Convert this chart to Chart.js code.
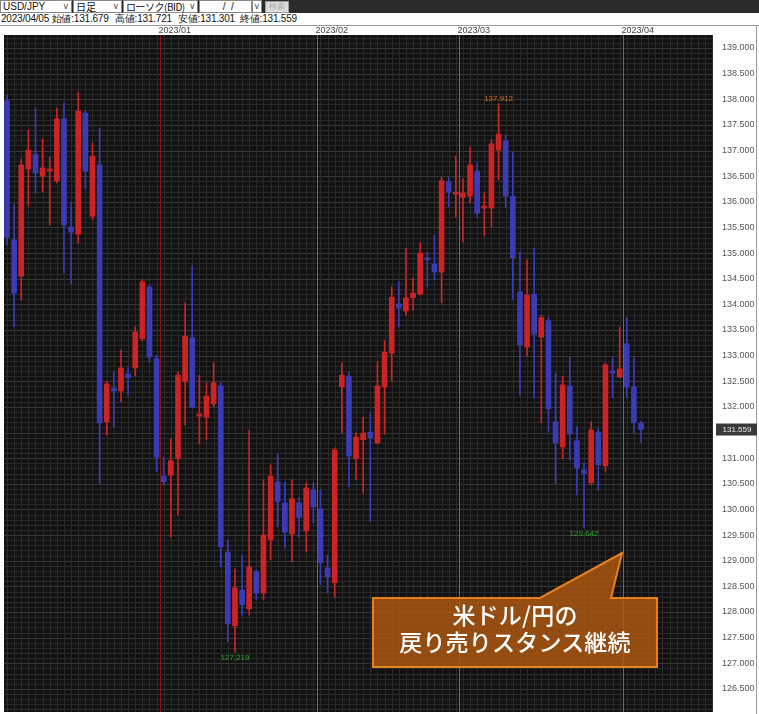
<!DOCTYPE html>
<html>
<head>
<meta charset="utf-8">
<script src="https://cdn.jsdelivr.net/npm/chart.js@4.4.0/dist/chart.umd.min.js"></script>
<style>
  body { margin: 0; width: 759px; height: 714px; overflow: hidden; position: relative; background: #fff; font-family: "Liberation Sans", Arial, sans-serif; }
  #toolbar { position: absolute; left: 0; top: 0; width: 759px; height: 13px; background: #2b2b2b; }
  .sel { position: absolute; top: 0; height: 13px; background: #fff; border: 1px solid #8a8a8a; box-sizing: border-box; font-size: 10px; line-height: 11px; color: #111; padding-left: 2px; white-space: nowrap; }
  .sel .arr { position: absolute; right: 2px; top: 0; font-size: 9px; color: #555; font-family: "DejaVu Sans", sans-serif; }
  #searchBtn { position: absolute; left: 265px; top: 1px; width: 22px; height: 10px; background: #ddd; border: 1px solid #999; font-size: 8px; line-height: 10px; text-align: center; color: #aaa; }
  .info { position: absolute; top: 13px; font-size: 10px; line-height: 12px; color: #111; white-space: nowrap; letter-spacing: -0.2px; }
  #hline { position: absolute; left: 0; top: 25px; width: 759px; height: 1px; background: #999; }
  #rline { position: absolute; left: 756px; top: 25px; width: 1px; height: 689px; background: #999; }
  #chartBox { position: absolute; left: 0; top: 26px; width: 759px; height: 688px; }
  #callout { position: absolute; left: 373px; top: 601px; width: 284px; text-align: center; color: #fff; font-family: "Noto Sans CJK JP", sans-serif; font-size: 23px; line-height: 27px; font-weight: 500; letter-spacing: 0.2px; }
</style>
</head>
<body>
<div id="toolbar"></div>
<div class="sel" style="left:0;width:72px">USD/JPY<span class="arr">∨</span></div>
<div class="sel" style="left:73px;width:49px;font-family:'Noto Sans CJK JP',sans-serif">日足<span class="arr">∨</span></div>
<div class="sel" style="left:123px;width:75px;font-family:'Noto Sans CJK JP',sans-serif;letter-spacing:-0.5px">ローソク(BID)<span class="arr">∨</span></div>
<div class="sel" style="left:199px;width:53px;text-align:center;padding-left:0">&nbsp;&nbsp;/&nbsp;&nbsp;/</div>
<div class="sel" style="left:252px;width:10px;padding-left:0"><span class="arr" style="right:1px">∨</span></div>
<div id="searchBtn">検索</div>
<div class="info" style="left:1px">2023/04/05 始値:131.679</div>
<div class="info" style="left:115px">高値:131.721</div>
<div class="info" style="left:178px">安値:131.301</div>
<div class="info" style="left:240px">終値:131.559</div>
<div id="hline"></div>
<div id="rline"></div>
<div id="chartBox"><canvas id="chart" width="759" height="688"></canvas></div>
<div id="callout">米ドル/円の<br>戻り売りスタンス継続</div>
<script>
// Daily USD/JPY (BID), 2022/12/01 - 2023/04/05
const dates = [
  '2022/12/01','2022/12/02','2022/12/05','2022/12/06','2022/12/07','2022/12/08','2022/12/09',
  '2022/12/12','2022/12/13','2022/12/14','2022/12/15','2022/12/16','2022/12/19','2022/12/20',
  '2022/12/21','2022/12/22','2022/12/23','2022/12/26','2022/12/27','2022/12/28','2022/12/29','2022/12/30',
  '2023/01/02','2023/01/03','2023/01/04','2023/01/05','2023/01/06','2023/01/09','2023/01/10',
  '2023/01/11','2023/01/12','2023/01/13','2023/01/16','2023/01/17','2023/01/18','2023/01/19',
  '2023/01/20','2023/01/23','2023/01/24','2023/01/25','2023/01/26','2023/01/27','2023/01/30','2023/01/31',
  '2023/02/01','2023/02/02','2023/02/03','2023/02/06','2023/02/07','2023/02/08','2023/02/09',
  '2023/02/10','2023/02/13','2023/02/14','2023/02/15','2023/02/16','2023/02/17','2023/02/20',
  '2023/02/21','2023/02/22','2023/02/23','2023/02/24','2023/02/27','2023/02/28',
  '2023/03/01','2023/03/02','2023/03/03','2023/03/06','2023/03/07','2023/03/08','2023/03/09',
  '2023/03/10','2023/03/13','2023/03/14','2023/03/15','2023/03/16','2023/03/17','2023/03/20',
  '2023/03/21','2023/03/22','2023/03/23','2023/03/24','2023/03/27','2023/03/28','2023/03/29',
  '2023/03/30','2023/03/31',
  '2023/04/03','2023/04/04','2023/04/05'
];
const opens = [
  137.97,135.26,134.55,136.64,136.93,136.50,136.60,136.41,137.62,135.51,135.37,137.73,135.72,136.72,
  131.71,132.37,132.31,132.64,132.76,133.33,134.34,132.94,
  130.65,130.67,130.99,132.49,133.35,131.82,131.80,132.06,132.41,129.17,127.73,128.43,128.06,128.78,
  128.37,129.41,130.54,130.13,129.52,130.13,129.58,130.38,
  130.01,128.86,128.57,132.39,132.60,130.99,131.36,131.51,131.30,132.39,133.05,134.01,133.87,134.13,
  134.20,134.89,134.79,134.63,136.39,136.15,
  136.09,136.11,136.60,135.88,135.88,137.01,137.19,136.11,134.24,133.17,134.20,133.36,133.68,131.71,
  131.22,132.41,131.34,130.77,130.52,131.51,130.85,132.68,132.58,
  133.23,132.39,131.679
];
const highs = [
  138.08,135.96,136.84,137.40,137.83,137.23,136.87,137.83,137.93,135.98,138.14,137.77,137.15,137.44,
  132.49,132.68,133.11,132.78,133.56,134.48,134.38,133.01,
  131.02,131.38,132.68,134.03,134.75,132.62,132.47,132.86,132.47,129.41,128.84,129.11,131.55,128.82,
  130.58,130.87,131.08,130.54,130.58,130.24,130.52,130.52,
  130.38,129.11,131.20,132.86,132.68,131.49,131.80,131.88,132.88,133.29,134.34,134.44,135.10,134.52,
  135.20,135.02,135.35,136.48,136.48,136.89,
  136.45,137.07,136.76,136.17,137.21,137.912,137.30,136.97,135.02,134.87,135.10,133.79,133.75,132.66,
  132.60,132.97,131.61,130.91,131.71,131.59,132.86,132.96,133.56,
  133.74,132.96,131.721
];
const lows = [
  135.16,133.56,134.09,135.92,136.17,136.19,135.55,136.37,134.61,134.40,135.20,136.25,135.65,130.52,
  131.45,131.61,132.10,132.23,132.60,133.29,132.88,130.73,
  130.48,129.46,129.89,131.65,131.98,131.28,131.36,132.00,128.88,127.42,127.219,127.94,127.94,128.24,
  128.24,129.02,129.66,129.25,128.98,129.46,129.17,129.74,
  128.53,128.37,128.29,131.49,130.44,130.58,130.32,129.76,131.28,131.47,132.51,133.56,133.79,133.89,
  134.18,134.34,134.48,134.03,135.90,135.70,
  135.22,135.98,135.70,135.33,135.51,136.43,135.90,134.09,132.23,132.99,132.18,131.69,131.51,130.50,
  130.99,130.97,130.28,129.642,130.48,130.38,130.73,132.18,132.57,
  132.18,131.49,131.301
];
const closes = [
  135.31,134.22,136.72,137.01,136.56,136.66,136.64,137.62,135.55,135.41,137.77,136.60,136.89,131.69,
  132.45,132.31,132.76,132.57,133.46,134.44,132.97,131.02,
  130.54,130.95,132.62,133.38,132.00,131.86,132.21,132.47,129.27,127.77,128.47,128.14,128.88,128.37,
  129.50,130.65,130.15,129.56,130.21,129.84,130.42,130.05,
  128.96,128.68,131.16,132.62,131.04,131.41,131.49,131.40,132.41,133.07,134.14,133.93,134.13,134.22,
  135.00,134.87,134.63,136.41,136.19,136.19,
  136.17,136.72,135.78,135.90,137.13,137.32,136.11,134.91,133.21,134.18,133.42,133.74,131.96,131.30,
  132.43,131.47,130.81,130.71,131.55,130.87,132.82,132.66,132.74,
  132.39,131.69,131.559
];
const monthLabels = ['2023/01', '2023/02', '2023/03', '2023/04'];
const yTicks = [139, 138.5, 138, 137.5, 137, 136.5, 136, 135.5, 135, 134.5, 134, 133.5, 133,
  132.5, 132, 131.5, 131, 130.5, 130, 129.5, 129, 128.5, 128, 127.5, 127, 126.5];
// values printed on the chart
const markedHigh = 137.912;
const markedLows = [127.219, 129.642];

const UP = '#cc2424';
const DOWN = '#3b3bb4';
const candleColor = closes.map((c, i) => c >= opens[i] ? UP : DOWN);
const fmt = v => v.toFixed(3);

// first candle of every month after the first one
const monthStarts = [];
dates.forEach((d, i) => { if (i > 0 && d.slice(5, 7) !== dates[i - 1].slice(5, 7)) monthStarts.push(i); });

const backdrop = {
  id: 'backdrop',
  beforeDatasetsDraw(chart) {
    const { ctx, chartArea: ca, scales: { x, y } } = chart;
    ctx.save();
    ctx.fillStyle = '#121212';
    ctx.fillRect(ca.left, ca.top, ca.width, ca.height);
    ctx.lineWidth = 1;
    // horizontal grid every 0.1
    for (let k = Math.ceil(y.min * 10); k <= Math.floor(y.max * 10); k++) {
      const py = Math.round(y.getPixelForValue(k / 10)) + 0.5;
      ctx.strokeStyle = k % 5 === 0 ? '#3a3a3a' : '#2a2a2a';
      ctx.beginPath(); ctx.moveTo(ca.left, py); ctx.lineTo(ca.right, py); ctx.stroke();
    }
    // vertical grid on every day
    for (let i = Math.ceil(x.min); i <= Math.floor(x.max); i++) {
      const px = Math.round(x.getPixelForValue(i)) + 0.5;
      ctx.strokeStyle = '#2a2a2a';
      ctx.beginPath(); ctx.moveTo(px, ca.top); ctx.lineTo(px, ca.bottom); ctx.stroke();
    }
    // month separators and labels
    ctx.font = '9px "Liberation Sans", Arial, sans-serif';
    ctx.textBaseline = 'middle';
    monthStarts.forEach((i, n) => {
      const px = Math.round(x.getPixelForValue(i - 0.5)) + 0.5;
      ctx.strokeStyle = n === 0 ? '#8a1414' : '#6a6a6a';
      ctx.beginPath(); ctx.moveTo(px, ca.top); ctx.lineTo(px, ca.bottom); ctx.stroke();
      ctx.fillStyle = '#444';
      ctx.textAlign = 'left';
      ctx.fillText(monthLabels[n], px - 2, ca.top - 4);
    });
    // right price scale
    ctx.fillStyle = '#555';
    ctx.textAlign = 'left';
    yTicks.forEach(v => ctx.fillText(fmt(v), ca.right + 9, y.getPixelForValue(v)));
    ctx.restore();
  },
  afterDatasetsDraw(chart) {
    const { ctx, chartArea: ca, scales: { x, y } } = chart;
    ctx.save();
    ctx.font = '8px "Liberation Sans", Arial, sans-serif';
    ctx.textAlign = 'center';
    ctx.textBaseline = 'middle';
    const hi = highs.indexOf(markedHigh);
    ctx.fillStyle = '#d2701e';
    ctx.fillText(fmt(markedHigh), x.getPixelForValue(hi), y.getPixelForValue(markedHigh) - 5);
    ctx.fillStyle = '#2fa82f';
    markedLows.forEach(v => {
      const lo = lows.indexOf(v);
      ctx.fillText(fmt(v), x.getPixelForValue(lo), y.getPixelForValue(v) + 6);
    });
    // last price box
    const last = closes[closes.length - 1];
    const ly = y.getPixelForValue(last);
    ctx.fillStyle = '#3a3a3a';
    ctx.fillRect(ca.right + 3, ly - 6, 41, 12);
    ctx.fillStyle = '#e8e8e8';
    ctx.fillText(fmt(last), ca.right + 24, ly);
    // callout balloon
    const top = 572, bot = 641;
    ctx.beginPath();
    ctx.moveTo(373, top); ctx.lineTo(540, top); ctx.lineTo(622, 527); ctx.lineTo(611, top);
    ctx.lineTo(657, top); ctx.lineTo(657, bot); ctx.lineTo(373, bot); ctx.closePath();
    ctx.fillStyle = 'rgba(176, 88, 16, 0.82)';
    ctx.fill();
    ctx.strokeStyle = '#e8801e';
    ctx.lineWidth = 2;
    ctx.stroke();
    ctx.restore();
  }
};

const wickData = dates.map((d, i) => ({ x: i, y: [lows[i], highs[i]] }));
const bodyData = dates.map((d, i) => ({ x: i, y: [opens[i], closes[i]] }));

new Chart(document.getElementById('chart'), {
  type: 'bar',
  data: {
    datasets: [
      { label: 'wick', data: wickData, backgroundColor: candleColor, barThickness: 1, grouped: false, order: 2 },
      { label: 'body', data: bodyData, backgroundColor: candleColor, barThickness: 5, minBarLength: 2, grouped: false, order: 1 }
    ]
  },
  options: {
    responsive: false,
    animation: false,
    layout: { padding: { left: 4, top: 9, right: 46, bottom: 2 } },
    plugins: { legend: { display: false }, tooltip: { enabled: false } },
    scales: {
      x: { type: 'linear', min: -0.42, max: 99.1, offset: false, display: false },
      y: { type: 'linear', min: 126.05, max: 139.2535, display: false }
    }
  },
  plugins: [backdrop]
});
</script>
</body>
</html>
